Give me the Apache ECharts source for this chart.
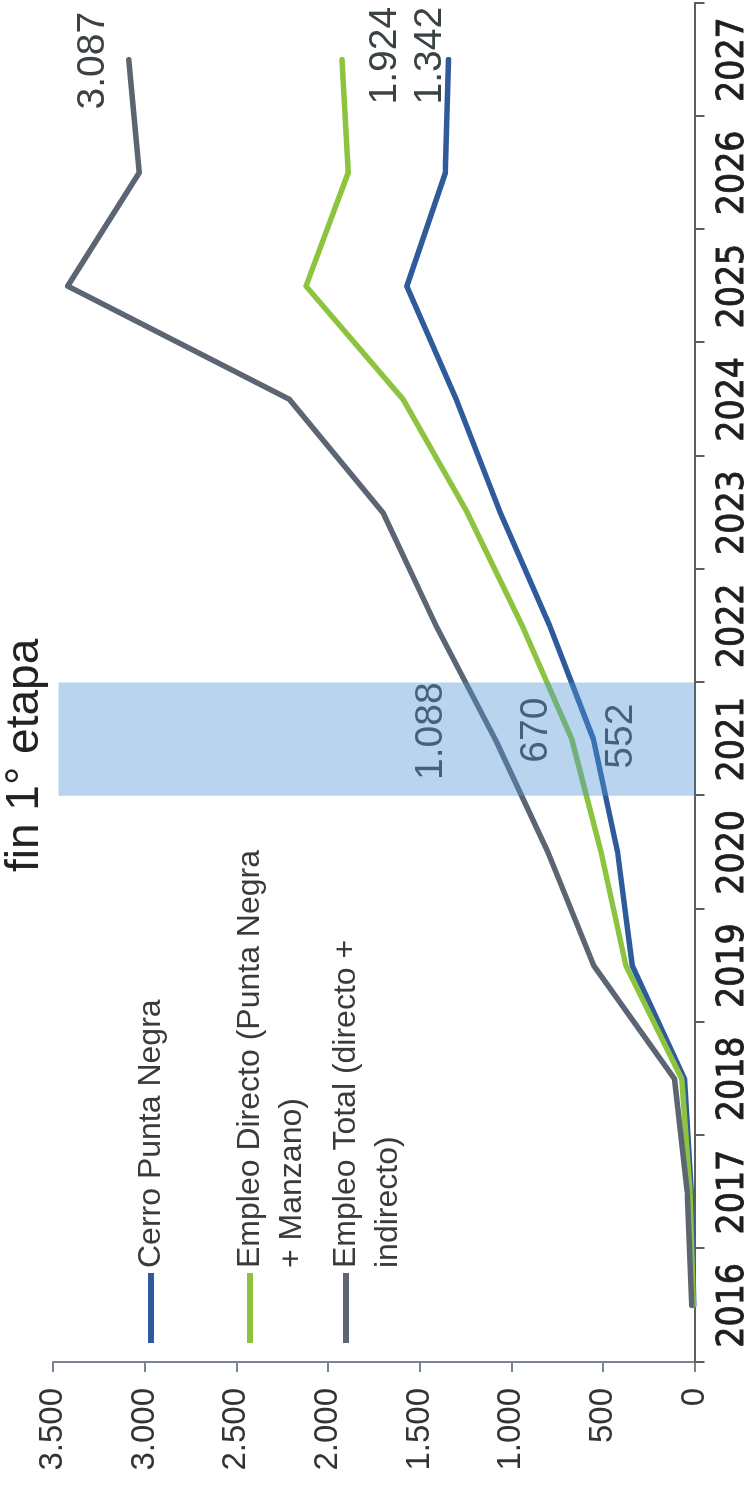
<!DOCTYPE html>
<html>
<head>
<meta charset="utf-8">
<script src="https://cdn.jsdelivr.net/npm/echarts@6/dist/echarts.min.js"></script>
<style>
  html, body { margin: 0; padding: 0; background: #ffffff; }
  body { width: 752px; height: 1488px; position: relative; overflow: hidden; }
  /* The chart is laid out landscape (1488 x 752) and turned a quarter turn
     counter-clockwise so that it stands upright on the portrait page. */
  #chart {
    position: absolute; left: 0; top: 0;
    width: 1488px; height: 752px;
    transform-origin: 0 0;
    transform: translate(0, 1488px) rotate(-90deg);
  }
</style>
</head>
<body>
<div id="chart"></div>
<script>
// Years on the category axis
const years = ['2016', '2017', '2018', '2019', '2020', '2021', '2022', '2023', '2024', '2025', '2026', '2027'];

// Employment series (persons)
const cerroPuntaNegra = [5, 18, 55, 340, 420, 552, 790, 1060, 1300, 1570, 1360, 1342];
const empleoDirecto   = [8, 25, 70, 375, 510, 670, 940, 1240, 1590, 2120, 1890, 1924];
const empleoTotal     = [15, 40, 110, 550, 800, 1088, 1410, 1700, 2210, 3420, 3030, 3087];

// End of the first stage: highlighted year and the height of its band
const stageYear = '2021';
const stageBandTop = 3470;

// Value axis range and step
const axisMin = 0;
const axisMax = 3500;
const axisStep = 500;

const seriesNames = ['Cerro Punta Negra', 'Empleo Directo (Punta Negra + Manzano)', 'Empleo Total (directo + indirecto)'];
// Legend wording as printed; the wrapped entries get an empty leading line so
// that the key line sits level with their first line of text.
const legendText = {
  'Cerro Punta Negra': 'Cerro Punta Negra',
  'Empleo Directo (Punta Negra + Manzano)': ' \nEmpleo Directo (Punta Negra\n+ Manzano)',
  'Empleo Total (directo + indirecto)': ' \nEmpleo Total (directo +\nindirecto)'
};

const SANS = "'Liberation Sans', Arial, Helvetica, sans-serif";
const NARROW = "'Liberation Sans Narrow', 'Arial Narrow', 'DejaVu Sans Condensed', sans-serif";

// Thousands separated with a dot: 3087 -> "3.087"
function fmt(v) {
  return String(Math.round(v)).replace(/\B(?=(\d{3})+(?!\d))/g, '.');
}

// Which points carry a value label, and where the label sits relative to the point
const labelSpots = [
  { 5: [3, 28], 11: [4, -18] },    // Cerro Punta Negra
  { 5: [9, -36], 11: [4, 43] },    // Empleo Directo
  { 5: [8, -64], 11: [-1, -35] }   // Empleo Total
];

function buildData(values, spots) {
  return values.map(function (v, i) {
    if (!spots[i]) return v;
    return {
      value: v,
      label: {
        show: true,
        position: 'inside',
        offset: spots[i],
        formatter: function (p) { return fmt(p.value); },
        fontFamily: SANS,
        fontSize: 39,
        color: '#3b4246'
      }
    };
  });
}

const colors = ['#2f5b9c', '#8cc43f', '#5c6572'];
const valueSets = [cerroPuntaNegra, empleoDirecto, empleoTotal];

const lineSeries = valueSets.map(function (vals, k) {
  return {
    name: seriesNames[k],
    type: 'line',
    data: buildData(vals, labelSpots[k]),
    showSymbol: true,
    symbol: 'circle',
    symbolSize: 1,
    itemStyle: { color: colors[k] },
    lineStyle: { color: colors[k], width: 5.5, cap: 'round', join: 'round' },
    label: { show: false },
    emphasis: { disabled: true },
    z: 3
  };
});

// Translucent band marking the year the first stage ends
const bandSeries = {
  name: 'fin 1° etapa',
  type: 'bar',
  data: years.map(function (y) { return y === stageYear ? stageBandTop : '-'; }),
  barWidth: '100%',
  barCategoryGap: '0%',
  itemStyle: { color: 'rgba(80,147,212,0.40)' },
  emphasis: { disabled: true },
  silent: true,
  z: 4
};

function legendFor(name, top) {
  return {
    data: [name],
    orient: 'vertical',
    left: 145,
    top: top,
    padding: 0,
    selectedMode: false,
    icon: 'rect',
    itemWidth: 70,
    itemHeight: 6,
    itemGap: 0,
    formatter: function (n) { return legendText[n]; },
    textStyle: {
      fontFamily: SANS,
      fontSize: 32,
      lineHeight: 42,
      color: '#3a3a3a'
    }
  };
}

const chart = echarts.init(document.getElementById('chart'), null, { renderer: 'canvas' });

chart.setOption({
  animation: false,
  backgroundColor: '#ffffff',
  title: {
    text: 'fin 1° etapa',
    left: 616,
    top: 2,
    padding: 0,
    textStyle: { fontFamily: SANS, fontSize: 46, fontWeight: 'normal', color: '#222222' }
  },
  legend: [
    legendFor(seriesNames[0], 130),
    legendFor(seriesNames[1], 187),
    legendFor(seriesNames[2], 283)
  ],
  grid: { left: 126, right: 3, top: 53, bottom: 55, containLabel: false },
  xAxis: {
    type: 'category',
    data: years,
    boundaryGap: true,
    axisLine: { show: true, lineStyle: { color: '#5e5e5e', width: 2 } },
    axisTick: { show: true, alignWithLabel: false, length: 10, lineStyle: { color: '#5e5e5e', width: 2 } },
    axisLabel: {
      margin: 20, interval: 0, fontFamily: NARROW, fontSize: 37, color: '#1e1e1e',
      textBorderColor: '#1e1e1e', textBorderWidth: 0.8
    },
    splitLine: { show: false }
  },
  yAxis: {
    type: 'value',
    min: axisMin,
    max: axisMax,
    interval: axisStep,
    axisLine: { show: true, lineStyle: { color: '#7b8591', width: 2 } },
    axisTick: { show: true, length: 10, lineStyle: { color: '#7b8591', width: 2 } },
    axisLabel: { margin: 26, fontFamily: SANS, fontSize: 33, color: '#333333', formatter: fmt },
    splitLine: { show: false }
  },
  series: lineSeries.concat([bandSeries])
});
</script>
</body>
</html>
